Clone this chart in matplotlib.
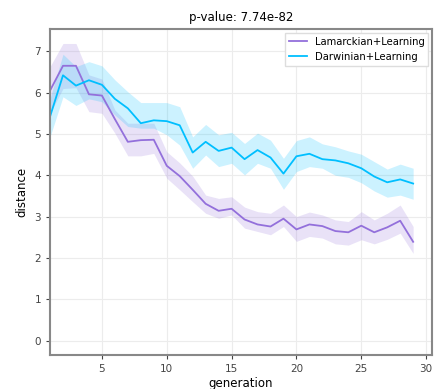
import numpy as np
import matplotlib
matplotlib.use("Agg")
import matplotlib.pyplot as plt

generation = np.arange(1, 30)

lam_mean = [6.05, 6.65, 6.65, 5.96, 5.93, 5.36, 4.81, 4.85, 4.86, 4.23,
            3.98, 3.65, 3.31, 3.14, 3.19, 2.93, 2.81, 2.76, 2.95, 2.69,
            2.81, 2.77, 2.65, 2.62, 2.78, 2.62, 2.74, 2.90, 2.39]
lam_upper = [6.63, 7.19, 7.19, 6.43, 6.33, 5.58, 5.26, 5.26, 5.26, 4.57,
             4.30, 3.98, 3.52, 3.44, 3.48, 3.23, 3.12, 3.08, 3.28, 3.00,
             3.11, 3.04, 2.92, 2.88, 3.12, 2.92, 3.08, 3.28, 2.76]
lam_lower = [5.50, 6.10, 6.12, 5.54, 5.50, 5.02, 4.47, 4.47, 4.53, 3.93,
             3.65, 3.36, 3.08, 2.96, 3.04, 2.72, 2.64, 2.56, 2.76, 2.40,
             2.52, 2.48, 2.34, 2.31, 2.44, 2.34, 2.45, 2.60, 2.11]

dar_mean = [5.42, 6.42, 6.17, 6.30, 6.19, 5.85, 5.62, 5.26, 5.33, 5.31,
            5.21, 4.55, 4.81, 4.59, 4.67, 4.39, 4.61, 4.43, 4.04, 4.46,
            4.52, 4.39, 4.36, 4.29, 4.17, 3.97, 3.83, 3.90, 3.80]
dar_upper = [5.86, 6.93, 6.63, 6.75, 6.65, 6.31, 6.02, 5.76, 5.76, 5.76,
             5.66, 4.93, 5.23, 4.98, 5.04, 4.77, 5.02, 4.85, 4.41, 4.84,
             4.93, 4.76, 4.69, 4.59, 4.51, 4.33, 4.15, 4.27, 4.17]
dar_lower = [4.93, 5.90, 5.69, 5.85, 5.78, 5.46, 5.18, 5.14, 5.14, 4.98,
             4.73, 4.17, 4.49, 4.21, 4.29, 4.01, 4.29, 4.17, 3.66, 4.09,
             4.21, 4.17, 4.00, 3.95, 3.82, 3.62, 3.47, 3.52, 3.42]

p_value = "7.74e-82"

fig = plt.figure(figsize=(4.35, 3.89), dpi=100)
ax = fig.add_axes([0.115, 0.0874, 0.878, 0.838])

ax.fill_between(generation, lam_lower, lam_upper, color="mediumpurple", alpha=0.2, linewidth=0)
ax.fill_between(generation, dar_lower, dar_upper, color="deepskyblue", alpha=0.2, linewidth=0)
ax.plot(generation, lam_mean, color="mediumpurple", lw=1.3, label="Lamarckian+Learning")
ax.plot(generation, dar_mean, color="deepskyblue", lw=1.3, label="Darwinian+Learning")

ax.set_xlim(1, 30.45)
ax.set_ylim(-0.35, 7.54)
ax.set_xticks([5, 10, 15, 20, 25, 30])
ax.set_yticks(range(0, 8))
ax.grid(True, color="#ececec", lw=0.8)
ax.set_axisbelow(True)

for s in ax.spines.values():
    s.set_color("#888888")
    s.set_linewidth(1.5)
ax.tick_params(colors="#444444", labelsize=7.5, length=3, width=0.8)

ax.set_title("p-value: " + p_value, fontsize=8.5)
ax.set_xlabel("generation", fontsize=8.5, labelpad=2)
ax.set_ylabel("distance", fontsize=8.5)
ax.legend(loc="upper right", fontsize=7.2, framealpha=1, edgecolor="#dddddd",
          fancybox=False, borderaxespad=0.35, handlelength=1.8)

fig.savefig("out.png", dpi=100)
